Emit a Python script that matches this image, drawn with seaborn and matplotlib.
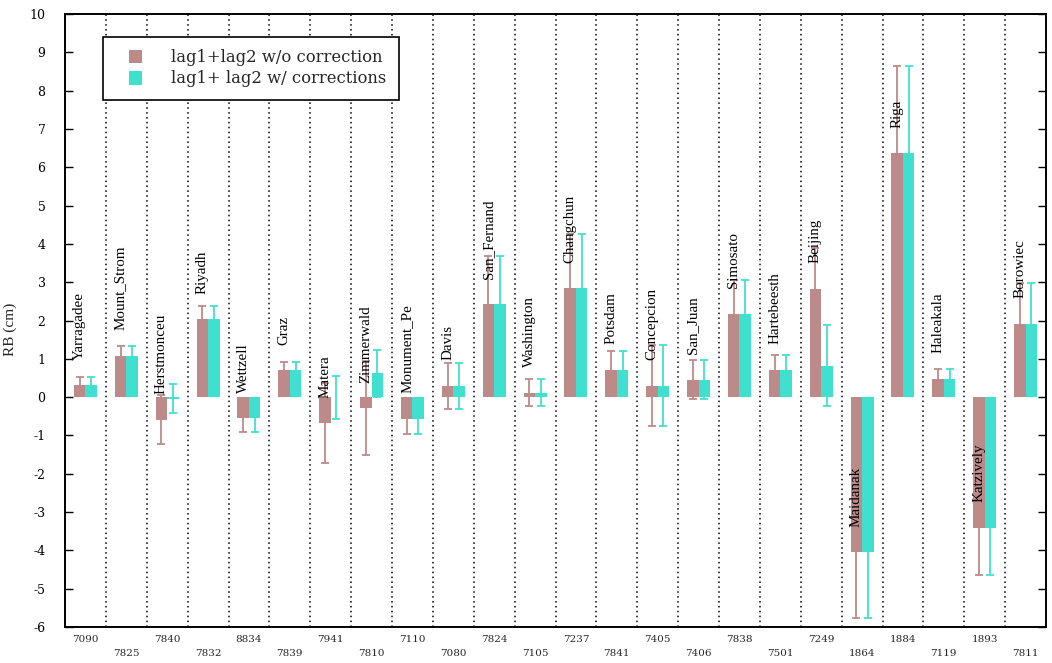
import matplotlib
matplotlib.use("Agg")
import matplotlib.pyplot as plt
from matplotlib.patches import Rectangle
from matplotlib.legend_handler import HandlerPatch
import seaborn as sns
import pandas as pd
import numpy as np

stations = ["Yarragadee", "Mount_Strom", "Herstmonceu", "Riyadh", "Wettzell", "Graz",
            "Matera", "Zimmerwald", "Monument_Pe", "Davis", "San_Fernand", "Washington",
            "Changchun", "Potsdam", "Concepcion", "San_Juan", "Simosato", "Hartebeesth",
            "Beijing", "Maidanak", "Riga", "Haleakala", "Katzively", "Borowiec"]
codes = ["7090", "7825", "7840", "7832", "8834", "7839", "7941", "7810", "7110", "7080",
         "7824", "7105", "7237", "7841", "7405", "7406", "7838", "7501", "7249", "1864",
         "1884", "7119", "1893", "7811"]
rb_wo = [0.31, 1.08, -0.59, 2.04, -0.55, 0.70, -0.68, -0.29, -0.56, 0.30, 2.42, 0.12,
         2.85, 0.72, 0.30, 0.46, 2.18, 0.72, 2.83, -4.05, 6.36, 0.48, -3.41, 1.92]
rb_wc = [0.31, 1.08, -0.04, 2.04, -0.55, 0.70, 0.00, 0.62, -0.56, 0.30, 2.42, 0.12,
         2.85, 0.72, 0.30, 0.46, 2.18, 0.72, 0.82, -4.05, 6.36, 0.48, -3.41, 1.92]
err_wo = [0.22, 0.26, 0.64, 0.35, 0.35, 0.22, 1.04, 1.23, 0.41, 0.60, 1.26, 0.35,
          1.41, 0.48, 1.05, 0.50, 0.87, 0.37, 1.05, 1.71, 2.28, 0.26, 1.24, 1.06]
err_wc = [0.22, 0.26, 0.38, 0.35, 0.35, 0.22, 0.56, 0.61, 0.41, 0.60, 1.26, 0.35,
          1.41, 0.48, 1.05, 0.50, 0.87, 0.37, 1.05, 1.71, 2.28, 0.26, 1.24, 1.06]
series = ["lag1+lag2 w/o correction", "lag1+ lag2 w/ corrections"]
yticks = list(range(-6, 11))

brown = "#BC8B89"
cyan = "#40E0D0"

df = pd.DataFrame({
    "station": stations * 2,
    "RB": rb_wo + rb_wc,
    "series": [series[0]] * len(stations) + [series[1]] * len(stations),
})

sns.set_theme(style="white")
plt.rcParams["font.family"] = ["DejaVu Serif"]

fig = plt.figure(figsize=(10.52, 6.63), dpi=100)
ax = fig.add_axes([65 / 1052, 36 / 663, 981 / 1052, 613 / 663])

sns.barplot(data=df, x="station", y="RB", hue="series", order=stations,
            hue_order=series, palette=[brown, cyan], width=0.56, saturation=1,
            errorbar=None, linewidth=0, ax=ax, zorder=2)

for cont, errs, col in zip(ax.containers, [err_wo, err_wc], [brown, cyan]):
    xs = [b.get_x() + b.get_width() / 2 for b in cont]
    vals = [b.get_height() for b in cont]
    ax.errorbar(xs, vals, yerr=errs, fmt="none", ecolor=col, elinewidth=1.3,
                capsize=3.2, capthick=1.3, zorder=1.5)

# station name labels above brown bars
brown_bars = ax.containers[0]
for b, name, v in zip(brown_bars, stations, rb_wo):
    xc = b.get_x() + b.get_width() / 2
    ax.text(xc, v + 0.66, name, rotation=90, ha="center", va="bottom",
            fontsize=10.8, family=["Liberation Serif"], color="black", zorder=3)

# dotted separators
for k in range(1, len(stations)):
    ax.axvline(k - 0.5, color="black", linestyle=(0, (1, 2.2)), linewidth=1.1, zorder=0)

ax.set_xlim(-0.5, len(stations) - 0.5)
ax.set_ylim(-6, 10)
ax.set_yticks(yticks)
ax.set_yticklabels([str(t) for t in yticks], fontsize=9)
ax.set_xticks(range(len(codes)))
ax.set_xticklabels([c if i % 2 == 0 else "\n" + c for i, c in enumerate(codes)], fontsize=7.5)
for t in ax.get_xticklabels():
    t.set_linespacing(1.7)
ax.tick_params(axis="x", length=0, pad=6)
ax.tick_params(axis="y", direction="in", length=6, width=1, left=True, right=True,
               pad=14, labelleft=True, labelright=False, colors="black")
ax.set_xlabel("")
ax.set_ylabel("RB (cm)", fontsize=11, family=["Liberation Serif"])
ax.yaxis.set_label_coords(-0.049, 0.485)
for s in ax.spines.values():
    s.set_visible(True)
    s.set_color("black")
    s.set_linewidth(1.4)
ax.grid(False)


def square_patch(legend, orig_handle, xdescent, ydescent, width, height, fontsize):
    return Rectangle((-xdescent + width - height, -ydescent), height, height)


handles, labels = ax.get_legend_handles_labels()
ax.legend(handles[:2], labels[:2], loc="upper left", bbox_to_anchor=(0.0387, 0.9625),
          borderaxespad=0, frameon=True, fancybox=False, edgecolor="black",
          framealpha=1, fontsize=11.8, handlelength=1.65, handleheight=0.9,
          handletextpad=1.75, borderpad=0.75, labelspacing=0.25,
          handler_map={Rectangle: HandlerPatch(patch_func=square_patch)})
ax.get_legend().get_frame().set_linewidth(1.2)

fig.savefig("out.png", dpi=100)
